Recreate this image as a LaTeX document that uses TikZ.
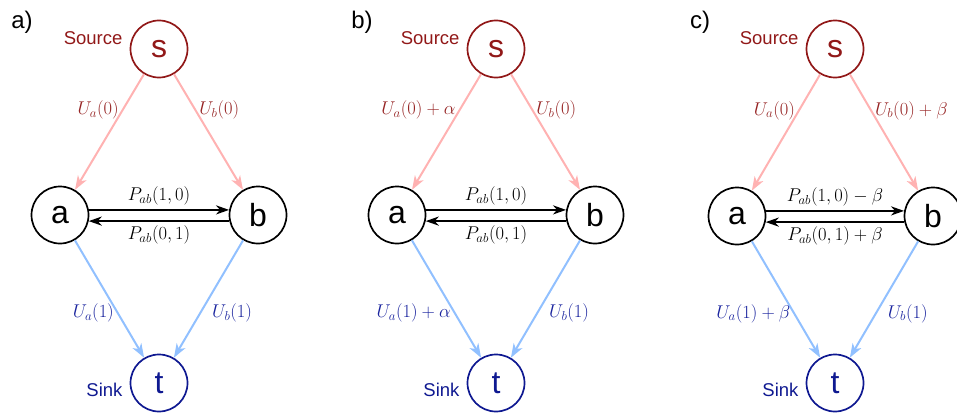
\RequirePackage{fix-cm}
\documentclass[tikz,border=0pt]{standalone}
\usepackage{fontspec}
\setmainfont{Liberation Sans}
\usetikzlibrary{arrows.meta,positioning}
\definecolor{srcred}{RGB}{145,24,24}
\definecolor{uplbl}{RGB}{150,36,36}
\definecolor{uppink}{RGB}{255,178,178}
\definecolor{downblue}{RGB}{145,192,255}
\definecolor{dnlbl}{RGB}{26,36,158}
\definecolor{snkblue}{RGB}{15,25,145}
\begin{document}
\begin{tikzpicture}[x=1pt, y=-1pt,
    vtx/.style={circle, draw, line width=1.7pt, minimum size=57pt, inner sep=0pt, font=\fontsize{32}{32}\selectfont},
    src/.style={vtx, draw=srcred, text=srcred},
    snk/.style={vtx, draw=snkblue, text=snkblue},
    upedge/.style={draw=uppink, line width=2pt, -{Stealth[length=14pt, width=10pt, inset=4pt]}},
    dnedge/.style={draw=downblue, line width=2pt, -{Stealth[length=14pt, width=10pt, inset=4pt]}},
    flow/.style={line width=2.6pt, -{Stealth[length=13pt, width=9pt, inset=4pt]}},
    uplabel/.style={text=uplbl, font=\fontsize{18.5}{21}\selectfont, inner sep=3pt},
    dnlabel/.style={text=dnlbl, font=\fontsize{18.5}{21}\selectfont, inner sep=3pt},
    plabel/.style={font=\fontsize{18.5}{21}\selectfont, inner sep=3pt},
    role/.style={font=\fontsize{18.5}{20}\selectfont, inner sep=0pt},
    tag/.style={font=\fontsize{24}{26}\selectfont}]
\useasboundingbox (0,0) rectangle (957,412);

% a)
\node[tag] (taga) at (22,22) {a)};
\node[src] (sa) at (159,49) {s};
\node[vtx] (aa) at (60,215) {a};
\node[vtx] (ba) at (258,215) {b};
\node[snk] (ta) at (159,383) {t};
\node[role, text=srcred, left=7pt of sa.west, yshift=11pt] (srca) {Source};
\node[role, text=snkblue, left=7pt of ta.west, yshift=-7pt] (snka) {Sink};

\draw[upedge] (sa) -- node[pos=.31, left, uplabel] {$U_a(0)$} (aa);
\draw[upedge] (sa) -- node[pos=.31, right, uplabel] {$U_b(0)$} (ba);
\draw[dnedge] (aa) -- node[pos=.62, left, dnlabel] {$U_a(1)$} (ta);
\draw[dnedge] (ba) -- node[pos=.62, right, dnlabel, xshift=8pt] {$U_b(1)$} (ta);
\draw[flow] (aa.10) -- node[above, plabel] {$P_{ab}(1,0)$} (ba.170);
\draw[flow] (ba.192) -- node[below, plabel] {$P_{ab}(0,1)$} (aa.348);

% b)
\begin{scope}[xshift=337pt]
\node[tag] (tagb) at (25,22) {b)};
\node[src] (sb) at (159,49) {s};
\node[vtx] (ab) at (60,215) {a};
\node[vtx] (bb) at (258,215) {b};
\node[snk] (tb) at (159,383) {t};
\node[role, text=srcred, left=7pt of sb.west, yshift=11pt] (srcb) {Source};
\node[role, text=snkblue, left=7pt of tb.west, yshift=-7pt] (snkb) {Sink};

\draw[upedge] (sb) -- node[pos=.31, left, uplabel] {$U_a(0)+\alpha$} (ab);
\draw[upedge] (sb) -- node[pos=.31, right, uplabel] {$U_b(0)$} (bb);
\draw[dnedge] (ab) -- node[pos=.62, left, dnlabel] {$U_a(1)+\alpha$} (tb);
\draw[dnedge] (bb) -- node[pos=.62, right, dnlabel, xshift=8pt] {$U_b(1)$} (tb);
\draw[flow] (ab.10) -- node[above, plabel] {$P_{ab}(1,0)$} (bb.170);
\draw[flow] (bb.192) -- node[below, plabel] {$P_{ab}(0,1)$} (ab.348);
\end{scope}

% c)
\begin{scope}[xshift=676pt]
\node[tag] (tagc) at (24,22) {c)};
\node[src] (sc) at (159,49) {s};
\node[vtx] (ac) at (61,216) {a};
\node[vtx] (bc) at (257,216) {b};
\node[snk] (tc) at (159,383) {t};
\node[role, text=srcred, left=7pt of sc.west, yshift=11pt] (srcc) {Source};
\node[role, text=snkblue, left=7pt of tc.west, yshift=-7pt] (snkc) {Sink};

\draw[upedge] (sc) -- node[pos=.31, left, uplabel] {$U_a(0)$} (ac);
\draw[upedge] (sc) -- node[pos=.31, right, uplabel] {$U_b(0)+\beta$} (bc);
\draw[dnedge] (ac) -- node[pos=.62, left, dnlabel] {$U_a(1)+\beta$} (tc);
\draw[dnedge] (bc) -- node[pos=.62, right, dnlabel, xshift=8pt] {$U_b(1)$} (tc);
\draw[flow] (ac.10) -- node[above, plabel] {$P_{ab}(1,0)-\beta$} (bc.170);
\draw[flow] (bc.192) -- node[below, plabel] {$P_{ab}(0,1)+\beta$} (ac.348);
\end{scope}
\end{tikzpicture}
\end{document}
